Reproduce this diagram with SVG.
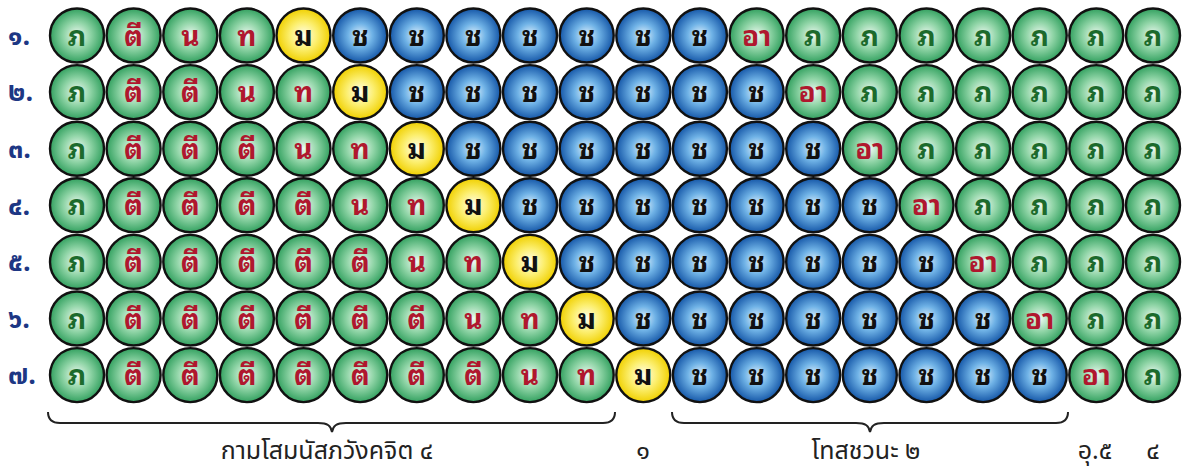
<svg xmlns="http://www.w3.org/2000/svg" width="1191" height="468" viewBox="0 0 1191 468">
<defs>
<radialGradient id="gg" cx="50%" cy="50%" r="50%"><stop offset="0" stop-color="#f0faf3"/><stop offset="0.5" stop-color="#8fd4a6"/><stop offset="1" stop-color="#33a160"/></radialGradient>
<radialGradient id="gb" cx="50%" cy="50%" r="50%"><stop offset="0" stop-color="#e4f3fd"/><stop offset="0.45" stop-color="#6fb2e6"/><stop offset="1" stop-color="#1557a8"/></radialGradient>
<radialGradient id="gy" cx="50%" cy="50%" r="50%"><stop offset="0" stop-color="#fffef0"/><stop offset="0.5" stop-color="#fcef70"/><stop offset="1" stop-color="#f0d000"/></radialGradient>
</defs>
<style>
circle{stroke:#111;stroke-width:2.4}
.g{fill:url(#gg)}.b{fill:url(#gb)}.y{fill:url(#gy)}
text{font-family:"Noto Sans Thai","Noto Sans Thai UI","Loma","Garuda","Noto Sans",sans-serif;text-anchor:middle}
.n text{font-family:"Noto Sans Thai Looped","Noto Serif Thai","Loma","Garuda","Noto Sans Thai",sans-serif;font-size:28px;font-weight:700}
.tg{fill:#1c6a2c}.tr{fill:#b0172e}.tk{fill:#111}
.lab{font-size:27px;font-weight:700;fill:#1d3784;text-anchor:start}
.cap{font-size:25px;fill:#222}
.brace{fill:none;stroke:#222;stroke-width:2}
</style>
<g id="labels">
<text class="lab" x="8" y="45">๑.</text>
<text class="lab" x="8" y="101">๒.</text>
<text class="lab" x="8" y="158">๓.</text>
<text class="lab" x="8" y="215">๔.</text>
<text class="lab" x="8" y="271">๕.</text>
<text class="lab" x="8" y="328">๖.</text>
<text class="lab" x="8" y="384">๗.</text>
</g>
<g id="row1" class="n">
<g id="r1c1" transform="translate(77,35.5)"><circle r="27" class="g"/><text class="tg" y="10">ภ</text></g>
<g id="r1c2" transform="translate(133.6,35.5)"><circle r="27" class="g"/><text class="tr" y="10">ตี</text></g>
<g id="r1c3" transform="translate(190.3,35.5)"><circle r="27" class="g"/><text class="tr" y="10">น</text></g>
<g id="r1c4" transform="translate(246.9,35.5)"><circle r="27" class="g"/><text class="tr" y="10">ท</text></g>
<g id="r1c5" transform="translate(303.5,35.5)"><circle r="27" class="y"/><text class="tk" y="10">ม</text></g>
<g id="r1c6" transform="translate(360.2,35.5)"><circle r="27" class="b"/><text class="tk" y="10">ช</text></g>
<g id="r1c7" transform="translate(416.8,35.5)"><circle r="27" class="b"/><text class="tk" y="10">ช</text></g>
<g id="r1c8" transform="translate(473.4,35.5)"><circle r="27" class="b"/><text class="tk" y="10">ช</text></g>
<g id="r1c9" transform="translate(530,35.5)"><circle r="27" class="b"/><text class="tk" y="10">ช</text></g>
<g id="r1c10" transform="translate(586.7,35.5)"><circle r="27" class="b"/><text class="tk" y="10">ช</text></g>
<g id="r1c11" transform="translate(643.3,35.5)"><circle r="27" class="b"/><text class="tk" y="10">ช</text></g>
<g id="r1c12" transform="translate(699.9,35.5)"><circle r="27" class="b"/><text class="tk" y="10">ช</text></g>
<g id="r1c13" transform="translate(756.6,35.5)"><circle r="27" class="g"/><text class="tr" y="10">อา</text></g>
<g id="r1c14" transform="translate(813.2,35.5)"><circle r="27" class="g"/><text class="tg" y="10">ภ</text></g>
<g id="r1c15" transform="translate(869.8,35.5)"><circle r="27" class="g"/><text class="tg" y="10">ภ</text></g>
<g id="r1c16" transform="translate(926.5,35.5)"><circle r="27" class="g"/><text class="tg" y="10">ภ</text></g>
<g id="r1c17" transform="translate(983.1,35.5)"><circle r="27" class="g"/><text class="tg" y="10">ภ</text></g>
<g id="r1c18" transform="translate(1039.7,35.5)"><circle r="27" class="g"/><text class="tg" y="10">ภ</text></g>
<g id="r1c19" transform="translate(1096.3,35.5)"><circle r="27" class="g"/><text class="tg" y="10">ภ</text></g>
<g id="r1c20" transform="translate(1153,35.5)"><circle r="27" class="g"/><text class="tg" y="10">ภ</text></g>
</g>
<g id="row2" class="n">
<g id="r2c1" transform="translate(77,92.1)"><circle r="27" class="g"/><text class="tg" y="10">ภ</text></g>
<g id="r2c2" transform="translate(133.6,92.1)"><circle r="27" class="g"/><text class="tr" y="10">ตี</text></g>
<g id="r2c3" transform="translate(190.3,92.1)"><circle r="27" class="g"/><text class="tr" y="10">ตี</text></g>
<g id="r2c4" transform="translate(246.9,92.1)"><circle r="27" class="g"/><text class="tr" y="10">น</text></g>
<g id="r2c5" transform="translate(303.5,92.1)"><circle r="27" class="g"/><text class="tr" y="10">ท</text></g>
<g id="r2c6" transform="translate(360.2,92.1)"><circle r="27" class="y"/><text class="tk" y="10">ม</text></g>
<g id="r2c7" transform="translate(416.8,92.1)"><circle r="27" class="b"/><text class="tk" y="10">ช</text></g>
<g id="r2c8" transform="translate(473.4,92.1)"><circle r="27" class="b"/><text class="tk" y="10">ช</text></g>
<g id="r2c9" transform="translate(530,92.1)"><circle r="27" class="b"/><text class="tk" y="10">ช</text></g>
<g id="r2c10" transform="translate(586.7,92.1)"><circle r="27" class="b"/><text class="tk" y="10">ช</text></g>
<g id="r2c11" transform="translate(643.3,92.1)"><circle r="27" class="b"/><text class="tk" y="10">ช</text></g>
<g id="r2c12" transform="translate(699.9,92.1)"><circle r="27" class="b"/><text class="tk" y="10">ช</text></g>
<g id="r2c13" transform="translate(756.6,92.1)"><circle r="27" class="b"/><text class="tk" y="10">ช</text></g>
<g id="r2c14" transform="translate(813.2,92.1)"><circle r="27" class="g"/><text class="tr" y="10">อา</text></g>
<g id="r2c15" transform="translate(869.8,92.1)"><circle r="27" class="g"/><text class="tg" y="10">ภ</text></g>
<g id="r2c16" transform="translate(926.5,92.1)"><circle r="27" class="g"/><text class="tg" y="10">ภ</text></g>
<g id="r2c17" transform="translate(983.1,92.1)"><circle r="27" class="g"/><text class="tg" y="10">ภ</text></g>
<g id="r2c18" transform="translate(1039.7,92.1)"><circle r="27" class="g"/><text class="tg" y="10">ภ</text></g>
<g id="r2c19" transform="translate(1096.3,92.1)"><circle r="27" class="g"/><text class="tg" y="10">ภ</text></g>
<g id="r2c20" transform="translate(1153,92.1)"><circle r="27" class="g"/><text class="tg" y="10">ภ</text></g>
</g>
<g id="row3" class="n">
<g id="r3c1" transform="translate(77,148.7)"><circle r="27" class="g"/><text class="tg" y="10">ภ</text></g>
<g id="r3c2" transform="translate(133.6,148.7)"><circle r="27" class="g"/><text class="tr" y="10">ตี</text></g>
<g id="r3c3" transform="translate(190.3,148.7)"><circle r="27" class="g"/><text class="tr" y="10">ตี</text></g>
<g id="r3c4" transform="translate(246.9,148.7)"><circle r="27" class="g"/><text class="tr" y="10">ตี</text></g>
<g id="r3c5" transform="translate(303.5,148.7)"><circle r="27" class="g"/><text class="tr" y="10">น</text></g>
<g id="r3c6" transform="translate(360.2,148.7)"><circle r="27" class="g"/><text class="tr" y="10">ท</text></g>
<g id="r3c7" transform="translate(416.8,148.7)"><circle r="27" class="y"/><text class="tk" y="10">ม</text></g>
<g id="r3c8" transform="translate(473.4,148.7)"><circle r="27" class="b"/><text class="tk" y="10">ช</text></g>
<g id="r3c9" transform="translate(530,148.7)"><circle r="27" class="b"/><text class="tk" y="10">ช</text></g>
<g id="r3c10" transform="translate(586.7,148.7)"><circle r="27" class="b"/><text class="tk" y="10">ช</text></g>
<g id="r3c11" transform="translate(643.3,148.7)"><circle r="27" class="b"/><text class="tk" y="10">ช</text></g>
<g id="r3c12" transform="translate(699.9,148.7)"><circle r="27" class="b"/><text class="tk" y="10">ช</text></g>
<g id="r3c13" transform="translate(756.6,148.7)"><circle r="27" class="b"/><text class="tk" y="10">ช</text></g>
<g id="r3c14" transform="translate(813.2,148.7)"><circle r="27" class="b"/><text class="tk" y="10">ช</text></g>
<g id="r3c15" transform="translate(869.8,148.7)"><circle r="27" class="g"/><text class="tr" y="10">อา</text></g>
<g id="r3c16" transform="translate(926.5,148.7)"><circle r="27" class="g"/><text class="tg" y="10">ภ</text></g>
<g id="r3c17" transform="translate(983.1,148.7)"><circle r="27" class="g"/><text class="tg" y="10">ภ</text></g>
<g id="r3c18" transform="translate(1039.7,148.7)"><circle r="27" class="g"/><text class="tg" y="10">ภ</text></g>
<g id="r3c19" transform="translate(1096.3,148.7)"><circle r="27" class="g"/><text class="tg" y="10">ภ</text></g>
<g id="r3c20" transform="translate(1153,148.7)"><circle r="27" class="g"/><text class="tg" y="10">ภ</text></g>
</g>
<g id="row4" class="n">
<g id="r4c1" transform="translate(77,205.3)"><circle r="27" class="g"/><text class="tg" y="10">ภ</text></g>
<g id="r4c2" transform="translate(133.6,205.3)"><circle r="27" class="g"/><text class="tr" y="10">ตี</text></g>
<g id="r4c3" transform="translate(190.3,205.3)"><circle r="27" class="g"/><text class="tr" y="10">ตี</text></g>
<g id="r4c4" transform="translate(246.9,205.3)"><circle r="27" class="g"/><text class="tr" y="10">ตี</text></g>
<g id="r4c5" transform="translate(303.5,205.3)"><circle r="27" class="g"/><text class="tr" y="10">ตี</text></g>
<g id="r4c6" transform="translate(360.2,205.3)"><circle r="27" class="g"/><text class="tr" y="10">น</text></g>
<g id="r4c7" transform="translate(416.8,205.3)"><circle r="27" class="g"/><text class="tr" y="10">ท</text></g>
<g id="r4c8" transform="translate(473.4,205.3)"><circle r="27" class="y"/><text class="tk" y="10">ม</text></g>
<g id="r4c9" transform="translate(530,205.3)"><circle r="27" class="b"/><text class="tk" y="10">ช</text></g>
<g id="r4c10" transform="translate(586.7,205.3)"><circle r="27" class="b"/><text class="tk" y="10">ช</text></g>
<g id="r4c11" transform="translate(643.3,205.3)"><circle r="27" class="b"/><text class="tk" y="10">ช</text></g>
<g id="r4c12" transform="translate(699.9,205.3)"><circle r="27" class="b"/><text class="tk" y="10">ช</text></g>
<g id="r4c13" transform="translate(756.6,205.3)"><circle r="27" class="b"/><text class="tk" y="10">ช</text></g>
<g id="r4c14" transform="translate(813.2,205.3)"><circle r="27" class="b"/><text class="tk" y="10">ช</text></g>
<g id="r4c15" transform="translate(869.8,205.3)"><circle r="27" class="b"/><text class="tk" y="10">ช</text></g>
<g id="r4c16" transform="translate(926.5,205.3)"><circle r="27" class="g"/><text class="tr" y="10">อา</text></g>
<g id="r4c17" transform="translate(983.1,205.3)"><circle r="27" class="g"/><text class="tg" y="10">ภ</text></g>
<g id="r4c18" transform="translate(1039.7,205.3)"><circle r="27" class="g"/><text class="tg" y="10">ภ</text></g>
<g id="r4c19" transform="translate(1096.3,205.3)"><circle r="27" class="g"/><text class="tg" y="10">ภ</text></g>
<g id="r4c20" transform="translate(1153,205.3)"><circle r="27" class="g"/><text class="tg" y="10">ภ</text></g>
</g>
<g id="row5" class="n">
<g id="r5c1" transform="translate(77,261.9)"><circle r="27" class="g"/><text class="tg" y="10">ภ</text></g>
<g id="r5c2" transform="translate(133.6,261.9)"><circle r="27" class="g"/><text class="tr" y="10">ตี</text></g>
<g id="r5c3" transform="translate(190.3,261.9)"><circle r="27" class="g"/><text class="tr" y="10">ตี</text></g>
<g id="r5c4" transform="translate(246.9,261.9)"><circle r="27" class="g"/><text class="tr" y="10">ตี</text></g>
<g id="r5c5" transform="translate(303.5,261.9)"><circle r="27" class="g"/><text class="tr" y="10">ตี</text></g>
<g id="r5c6" transform="translate(360.2,261.9)"><circle r="27" class="g"/><text class="tr" y="10">ตี</text></g>
<g id="r5c7" transform="translate(416.8,261.9)"><circle r="27" class="g"/><text class="tr" y="10">น</text></g>
<g id="r5c8" transform="translate(473.4,261.9)"><circle r="27" class="g"/><text class="tr" y="10">ท</text></g>
<g id="r5c9" transform="translate(530,261.9)"><circle r="27" class="y"/><text class="tk" y="10">ม</text></g>
<g id="r5c10" transform="translate(586.7,261.9)"><circle r="27" class="b"/><text class="tk" y="10">ช</text></g>
<g id="r5c11" transform="translate(643.3,261.9)"><circle r="27" class="b"/><text class="tk" y="10">ช</text></g>
<g id="r5c12" transform="translate(699.9,261.9)"><circle r="27" class="b"/><text class="tk" y="10">ช</text></g>
<g id="r5c13" transform="translate(756.6,261.9)"><circle r="27" class="b"/><text class="tk" y="10">ช</text></g>
<g id="r5c14" transform="translate(813.2,261.9)"><circle r="27" class="b"/><text class="tk" y="10">ช</text></g>
<g id="r5c15" transform="translate(869.8,261.9)"><circle r="27" class="b"/><text class="tk" y="10">ช</text></g>
<g id="r5c16" transform="translate(926.5,261.9)"><circle r="27" class="b"/><text class="tk" y="10">ช</text></g>
<g id="r5c17" transform="translate(983.1,261.9)"><circle r="27" class="g"/><text class="tr" y="10">อา</text></g>
<g id="r5c18" transform="translate(1039.7,261.9)"><circle r="27" class="g"/><text class="tg" y="10">ภ</text></g>
<g id="r5c19" transform="translate(1096.3,261.9)"><circle r="27" class="g"/><text class="tg" y="10">ภ</text></g>
<g id="r5c20" transform="translate(1153,261.9)"><circle r="27" class="g"/><text class="tg" y="10">ภ</text></g>
</g>
<g id="row6" class="n">
<g id="r6c1" transform="translate(77,318.5)"><circle r="27" class="g"/><text class="tg" y="10">ภ</text></g>
<g id="r6c2" transform="translate(133.6,318.5)"><circle r="27" class="g"/><text class="tr" y="10">ตี</text></g>
<g id="r6c3" transform="translate(190.3,318.5)"><circle r="27" class="g"/><text class="tr" y="10">ตี</text></g>
<g id="r6c4" transform="translate(246.9,318.5)"><circle r="27" class="g"/><text class="tr" y="10">ตี</text></g>
<g id="r6c5" transform="translate(303.5,318.5)"><circle r="27" class="g"/><text class="tr" y="10">ตี</text></g>
<g id="r6c6" transform="translate(360.2,318.5)"><circle r="27" class="g"/><text class="tr" y="10">ตี</text></g>
<g id="r6c7" transform="translate(416.8,318.5)"><circle r="27" class="g"/><text class="tr" y="10">ตี</text></g>
<g id="r6c8" transform="translate(473.4,318.5)"><circle r="27" class="g"/><text class="tr" y="10">น</text></g>
<g id="r6c9" transform="translate(530,318.5)"><circle r="27" class="g"/><text class="tr" y="10">ท</text></g>
<g id="r6c10" transform="translate(586.7,318.5)"><circle r="27" class="y"/><text class="tk" y="10">ม</text></g>
<g id="r6c11" transform="translate(643.3,318.5)"><circle r="27" class="b"/><text class="tk" y="10">ช</text></g>
<g id="r6c12" transform="translate(699.9,318.5)"><circle r="27" class="b"/><text class="tk" y="10">ช</text></g>
<g id="r6c13" transform="translate(756.6,318.5)"><circle r="27" class="b"/><text class="tk" y="10">ช</text></g>
<g id="r6c14" transform="translate(813.2,318.5)"><circle r="27" class="b"/><text class="tk" y="10">ช</text></g>
<g id="r6c15" transform="translate(869.8,318.5)"><circle r="27" class="b"/><text class="tk" y="10">ช</text></g>
<g id="r6c16" transform="translate(926.5,318.5)"><circle r="27" class="b"/><text class="tk" y="10">ช</text></g>
<g id="r6c17" transform="translate(983.1,318.5)"><circle r="27" class="b"/><text class="tk" y="10">ช</text></g>
<g id="r6c18" transform="translate(1039.7,318.5)"><circle r="27" class="g"/><text class="tr" y="10">อา</text></g>
<g id="r6c19" transform="translate(1096.3,318.5)"><circle r="27" class="g"/><text class="tg" y="10">ภ</text></g>
<g id="r6c20" transform="translate(1153,318.5)"><circle r="27" class="g"/><text class="tg" y="10">ภ</text></g>
</g>
<g id="row7" class="n">
<g id="r7c1" transform="translate(77,375.1)"><circle r="27" class="g"/><text class="tg" y="10">ภ</text></g>
<g id="r7c2" transform="translate(133.6,375.1)"><circle r="27" class="g"/><text class="tr" y="10">ตี</text></g>
<g id="r7c3" transform="translate(190.3,375.1)"><circle r="27" class="g"/><text class="tr" y="10">ตี</text></g>
<g id="r7c4" transform="translate(246.9,375.1)"><circle r="27" class="g"/><text class="tr" y="10">ตี</text></g>
<g id="r7c5" transform="translate(303.5,375.1)"><circle r="27" class="g"/><text class="tr" y="10">ตี</text></g>
<g id="r7c6" transform="translate(360.2,375.1)"><circle r="27" class="g"/><text class="tr" y="10">ตี</text></g>
<g id="r7c7" transform="translate(416.8,375.1)"><circle r="27" class="g"/><text class="tr" y="10">ตี</text></g>
<g id="r7c8" transform="translate(473.4,375.1)"><circle r="27" class="g"/><text class="tr" y="10">ตี</text></g>
<g id="r7c9" transform="translate(530,375.1)"><circle r="27" class="g"/><text class="tr" y="10">น</text></g>
<g id="r7c10" transform="translate(586.7,375.1)"><circle r="27" class="g"/><text class="tr" y="10">ท</text></g>
<g id="r7c11" transform="translate(643.3,375.1)"><circle r="27" class="y"/><text class="tk" y="10">ม</text></g>
<g id="r7c12" transform="translate(699.9,375.1)"><circle r="27" class="b"/><text class="tk" y="10">ช</text></g>
<g id="r7c13" transform="translate(756.6,375.1)"><circle r="27" class="b"/><text class="tk" y="10">ช</text></g>
<g id="r7c14" transform="translate(813.2,375.1)"><circle r="27" class="b"/><text class="tk" y="10">ช</text></g>
<g id="r7c15" transform="translate(869.8,375.1)"><circle r="27" class="b"/><text class="tk" y="10">ช</text></g>
<g id="r7c16" transform="translate(926.5,375.1)"><circle r="27" class="b"/><text class="tk" y="10">ช</text></g>
<g id="r7c17" transform="translate(983.1,375.1)"><circle r="27" class="b"/><text class="tk" y="10">ช</text></g>
<g id="r7c18" transform="translate(1039.7,375.1)"><circle r="27" class="b"/><text class="tk" y="10">ช</text></g>
<g id="r7c19" transform="translate(1096.3,375.1)"><circle r="27" class="g"/><text class="tr" y="10">อา</text></g>
<g id="r7c20" transform="translate(1153,375.1)"><circle r="27" class="g"/><text class="tg" y="10">ภ</text></g>
</g>
<g id="braces">
<path class="brace" d="M48,412 Q48,423 60,423 L318,423 C328,423 331,426 332,432 C333,426 336,423 346,423 L603,423 Q615,423 615,412"/>
<path class="brace" d="M672,412 Q672,423 684,423 L856,423 C866,423 869,426 870,432 C871,426 874,423 884,423 L1056,423 Q1068,423 1068,412"/>
</g>
<g id="captions">
<text class="cap" x="327" y="459">กามโสมนัสภวังคจิต ๔</text>
<text class="cap" x="643" y="459">๑</text>
<text class="cap" x="866" y="459">โทสชวนะ ๒</text>
<text class="cap" x="1095" y="459">อุ.๕</text>
<text class="cap" x="1153" y="459">๔</text>
</g>
</svg>
